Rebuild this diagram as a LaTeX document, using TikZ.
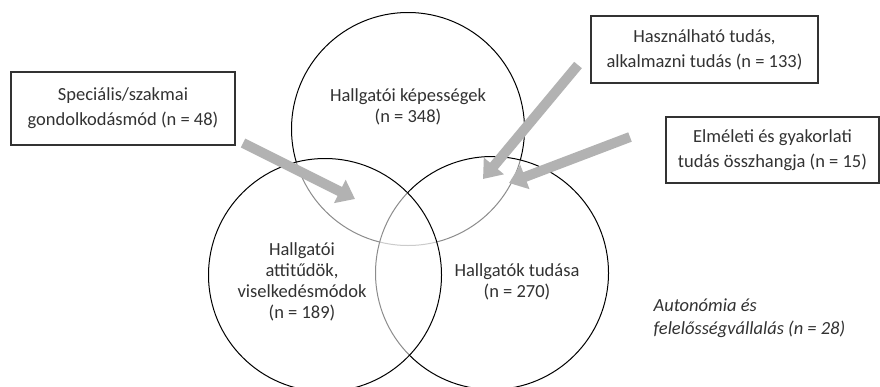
\documentclass[tikz,border=0pt]{standalone}
\usepackage{fontspec}
\setmainfont{Carlito}
\usepackage{tikz}
\usetikzlibrary{arrows.meta}
\definecolor{bar}{RGB}{178, 178, 178}
\definecolor{ink}{RGB}{50, 50, 50}

\tikzset{
  venn/.style={circle, draw=black, line width=1pt, minimum size=233pt, inner sep=0pt,
    fill=white, fill opacity=0.55},
  ventext/.style={align=center, text=ink, font=\fontsize{18.5}{21}\selectfont},
  tagbox/.style={draw=ink, line width=1.2pt, align=center, text=ink,
    font=\fontsize{18.5}{25}\selectfont},
  pointer/.style={draw=bar, line width=10pt, -{Triangle[length=17pt, width=25pt]}}
}

\begin{document}
\begin{tikzpicture}[x=1pt, y=-1pt]
  \clip (0, 0) rectangle (880, 386);

  % the three sets
  \foreach \name/\cx/\cy in {kepesseg/408/129, tudas/492/273, attitud/325/275} {
    \node[venn] (\name) at (\cx, \cy) {};
  }

  \node[ventext] (kt) at (408, 107) {Hallgatói képességek\\(n = 348)};
  \node[ventext] (at) at (302, 282) {Hallgatói\\attitűdök,\\viselkedésmódok\\(n = 189)};
  \node[ventext] (tt) at (517, 282) {Hallgatók tudása\\(n = 270)};

  % boxes
  \node[tagbox, minimum width=224pt, minimum height=73pt] (szak) at (123, 108.5)
    {Speciális/szakmai\\gondolkodásmód (n = 48)};
  \node[tagbox, minimum width=227pt, minimum height=67pt] (hasz) at (704.5, 49.5)
    {Használható tudás,\\alkalmazni tudás (n = 133)};
  \node[tagbox, minimum width=213pt, minimum height=66pt] (elm) at (772.5, 150)
    {Elméleti és gyakorlati\\tudás összhangja (n = 15)};

  \node[ventext, align=left, anchor=west, font=\itshape\fontsize{18.5}{23}\selectfont] (auto)
    at (650, 318) {Autonómia és\\felelősségvállalás (n = 28)};

  % arrows
  \coordinate (szak-t) at (243, 143);
  \coordinate (szak-h) at (355, 199);
  \coordinate (hasz-t) at (578, 65);
  \coordinate (hasz-h) at (483, 179);
  \coordinate (elm-t) at (630, 137);
  \coordinate (elm-h) at (509, 183);
  \foreach \p in {szak, hasz, elm} {
    \draw[pointer] (\p-t) -- (\p-h);
  }

\end{tikzpicture}
\end{document}
